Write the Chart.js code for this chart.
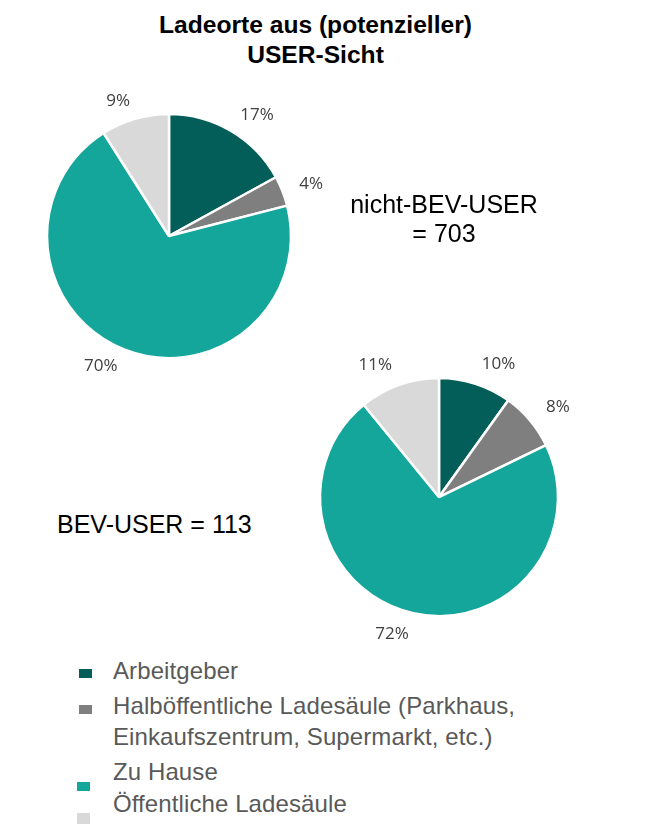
<!DOCTYPE html>
<html lang="de">
<head>
<meta charset="utf-8">
<title>Ladeorte aus (potenzieller) USER-Sicht</title>
<script src="https://cdn.jsdelivr.net/npm/chart.js@4.4.1/dist/chart.umd.min.js"></script>
<style>
  body { margin: 0; background: #fff; font-family: "Liberation Sans", Arial, sans-serif; }
  #page { position: relative; width: 647px; height: 833px; overflow: hidden; }
  .abs { position: absolute; }
  #title { left: 0; width: 631px; top: 10px; text-align: center; font-weight: bold; font-size: 24.6px; line-height: 30px; color: #000; }
  .note { font-size: 25px; line-height: 28.5px; color: #000; }
  #noteTop { left: 300px; width: 288px; top: 190px; text-align: center; }
  #noteBottom { left: 57px; top: 510px; white-space: nowrap; }
  #pieTop { left: 0; top: 80px; width: 338px; height: 312px; }
  #pieBottom { left: 289px; top: 347px; width: 300px; height: 300px; }
  .row { position: absolute; left: 0; }
  .row .mark { position: absolute; left: 79px; width: 13px; height: 9px; }
  .row.low .mark { left: 77px; }
  .row .txt { position: absolute; left: 113px; width: 430px; font-size: 24px; line-height: 31px; color: #595959; letter-spacing: 0.1px; }
</style>
</head>
<body>
<div id="page">
  <div id="title" class="abs">Ladeorte aus (potenzieller)<br>USER-Sicht</div>
  <div id="pieTop" class="abs"><canvas id="chartTop"></canvas></div>
  <div id="pieBottom" class="abs"><canvas id="chartBottom"></canvas></div>
  <div id="noteTop" class="abs note">nicht-BEV-USER<br>= 703</div>
  <div id="noteBottom" class="abs note">BEV-USER = 113</div>
  <div id="legend"></div>
</div>
<script>
// categories and shares (in %)
const categories = [
  'Arbeitgeber',
  'Halböffentliche Ladesäule (Parkhaus, Einkaufszentrum, Supermarkt, etc.)',
  'Zu Hause',
  'Öffentliche Ladesäule'
];
const nichtBevUser = [17, 4, 70, 9];   // n = 703
const bevUser = [10, 8, 72, 11];       // n = 113
const sliceColors = ['#035d58', '#7f7f7f', '#14a59b', '#d9d9d9'];

// percent labels just outside each slice (pushed sideways like the office "outside end" labels)
const outsideLabels = {
  id: 'outsideLabels',
  afterDatasetsDraw(chart, args, opts) {
    const ctx = chart.ctx;
    const values = chart.data.datasets[0].data;
    ctx.save();
    ctx.font = opts.font;
    ctx.fillStyle = opts.color;
    ctx.textAlign = 'center';
    ctx.textBaseline = 'middle';
    chart.getDatasetMeta(0).data.forEach((arc, i) => {
      const p = arc.getProps(['x', 'y', 'startAngle', 'endAngle', 'outerRadius'], true);
      const mid = (p.startAngle + p.endAngle) / 2;
      const text = values[i] + '%';
      const w = ctx.measureText(text).width;
      const d = p.outerRadius + opts.gap;
      const cos = Math.cos(mid);
      const x = p.x + cos * d + Math.sign(cos) * w / 2;
      const y = p.y + Math.sin(mid) * d;
      ctx.fillText(text, x, y);
    });
    ctx.restore();
  }
};

function makePie(id, values, radius, gap) {
  return new Chart(document.getElementById(id), {
    type: 'pie',
    data: {
      labels: categories,
      datasets: [{
        data: values,
        backgroundColor: sliceColors,
        borderColor: '#ffffff',
        borderWidth: 2.5,
        radius: radius
      }]
    },
    options: {
      responsive: true,
      maintainAspectRatio: false,
      animation: false,
      events: [],
      layout: { padding: 0 },
      plugins: {
        legend: { display: false },
        tooltip: { enabled: false },
        outsideLabels: { font: '17px "Open Sans"', color: '#404040', gap: gap }
      }
    },
    plugins: [outsideLabels]
  });
}

makePie('chartTop', nichtBevUser, 122, 18);
makePie('chartBottom', bevUser, 119, 21);

// legend, laid out like the slide
const rowTops = [655, 690, 756, 788];
const markTops = [14, 15, 26, 25];
const legend = document.getElementById('legend');
categories.forEach((name, i) => {
  const row = document.createElement('div');
  row.className = i >= 2 ? 'row low' : 'row';
  row.style.top = rowTops[i] + 'px';
  const mark = document.createElement('div');
  mark.className = 'mark';
  mark.style.top = markTops[i] + 'px';
  mark.style.background = sliceColors[i];
  if (i === 3) mark.style.height = '11px';
  const txt = document.createElement('div');
  txt.className = 'txt';
  txt.textContent = name;
  row.appendChild(mark);
  row.appendChild(txt);
  legend.appendChild(row);
});
</script>
</body>
</html>
